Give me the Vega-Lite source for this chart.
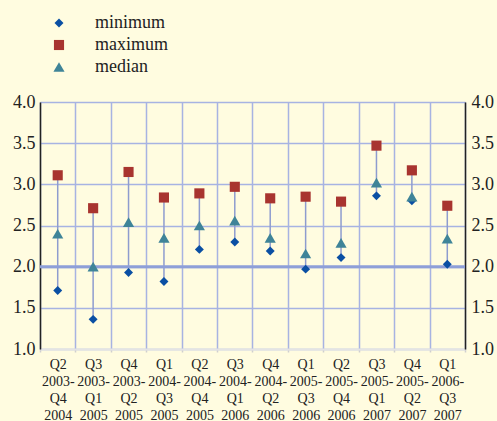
{
  "$schema": "https://vega.github.io/schema/vega-lite/v6.json",
  "autosize": "none",
  "width": 425,
  "height": 247,
  "padding": {"left": 40, "top": 102, "right": 32, "bottom": 72},
  "background": "#FFFCE0",
  "config": {
    "view": {"stroke": null, "fill": "#FFFCE0"},
    "font": "Liberation Serif"
  },
  "data": {
    "values": [
      {"p": "Q2|2003-|Q4|2004", "minimum": 1.71, "maximum": 3.11, "median": 2.4},
      {"p": "Q3|2003-|Q1|2005", "minimum": 1.36, "maximum": 2.71, "median": 2.0},
      {"p": "Q4|2003-|Q2|2005", "minimum": 1.93, "maximum": 3.15, "median": 2.54},
      {"p": "Q1|2004-|Q3|2005", "minimum": 1.82, "maximum": 2.84, "median": 2.35},
      {"p": "Q2|2004-|Q4|2005", "minimum": 2.21, "maximum": 2.89, "median": 2.5},
      {"p": "Q3|2004-|Q1|2006", "minimum": 2.3, "maximum": 2.97, "median": 2.56},
      {"p": "Q4|2004-|Q2|2006", "minimum": 2.19, "maximum": 2.83, "median": 2.35},
      {"p": "Q1|2005-|Q3|2006", "minimum": 1.97, "maximum": 2.85, "median": 2.16},
      {"p": "Q2|2005-|Q4|2006", "minimum": 2.11, "maximum": 2.79, "median": 2.29},
      {"p": "Q3|2005-|Q1|2007", "minimum": 2.86, "maximum": 3.47, "median": 3.02},
      {"p": "Q4|2005-|Q2|2007", "minimum": 2.8, "maximum": 3.17, "median": 2.85},
      {"p": "Q1|2006-|Q3|2007", "minimum": 2.03, "maximum": 2.74, "median": 2.34}
    ]
  },
  "encoding": {
    "x": {
      "field": "p",
      "type": "nominal",
      "sort": null,
      "scale": {"paddingInner": 0, "paddingOuter": 0},
      "axis": {
        "title": null,
        "labelAngle": 0,
        "labelExpr": "datum.value ? split(datum.value, '|') : ''",
        "labelFont": "Liberation Serif",
        "labelFontSize": 14,
        "labelLineHeight": 17,
        "labelColor": "#222222",
        "labelPadding": 5,
        "tickBand": "extent",
        "grid": true,
        "gridColor": "#A7B3E2",
        "gridWidth": 1.5,
        "domainColor": "#E4E4E4",
        "domainWidth": 2,
        "tickColor": "#CFCFCF",
        "tickSize": 3,
        "tickWidth": 1.5
      }
    }
  },
  "layer": [
    {
      "mark": {"type": "rule", "color": "#8E9CCF", "strokeWidth": 1.5},
      "encoding": {
        "y": {
          "field": "minimum",
          "type": "quantitative",
          "scale": {"domain": [1, 4]},
          "axis": {
            "title": null,
            "orient": "left",
            "values": [1, 1.5, 2, 2.5, 3, 3.5, 4],
            "format": ".1f",
            "labelFont": "Liberation Serif",
            "labelFontSize": 18,
            "labelColor": "#222222",
            "ticks": false,
            "labelPadding": 5,
            "domainColor": "#222222",
            "domainWidth": 1.5,
            "grid": true,
            "gridColor": "#A7B3E2",
            "gridWidth": 1.5
          }
        },
        "y2": {"field": "maximum"}
      }
    },
    {
      "data": {"values": [{"v": 2}]},
      "mark": {"type": "rule", "color": "#8E9FD8", "strokeWidth": 3},
      "encoding": {
        "x": {"value": 0},
        "x2": {"value": 425},
        "y": {
          "field": "v",
          "type": "quantitative",
          "scale": {"domain": [1, 4]},
          "axis": {
            "title": null,
            "orient": "right",
            "values": [1, 1.5, 2, 2.5, 3, 3.5, 4],
            "format": ".1f",
            "labelFont": "Liberation Serif",
            "labelFontSize": 18,
            "labelColor": "#222222",
            "ticks": false,
            "labelPadding": 6,
            "domainColor": "#222222",
            "domainWidth": 1.5,
            "grid": false
          }
        }
      }
    },
    {
      "transform": [{"fold": ["minimum", "maximum", "median"], "as": ["series", "value"]}],
      "mark": {"type": "point", "filled": true, "opacity": 1},
      "encoding": {
        "y": {"field": "value", "type": "quantitative", "scale": {"domain": [1, 4]}, "axis": null},
        "shape": {
          "field": "series",
          "type": "nominal",
          "scale": {"domain": ["minimum", "maximum", "median"], "range": ["diamond", "square", "triangle-up"]}
        },
        "color": {
          "field": "series",
          "type": "nominal",
          "scale": {"domain": ["minimum", "maximum", "median"], "range": ["#0A4FA3", "#A8342F", "#3F8498"]},
          "legend": {
            "title": null,
            "orient": "none",
            "legendX": 10,
            "legendY": -88,
            "labelFont": "Liberation Serif",
            "labelFontSize": 18,
            "labelColor": "#222222",
            "labelOffset": 27,
            "rowPadding": 4,
            "symbolStrokeWidth": 0
          }
        },
        "size": {
          "field": "series",
          "type": "nominal",
          "scale": {"domain": ["minimum", "maximum", "median"], "range": [80, 125, 100]}
        }
      }
    }
  ],
  "resolve": {"axis": {"y": "independent"}}
}
